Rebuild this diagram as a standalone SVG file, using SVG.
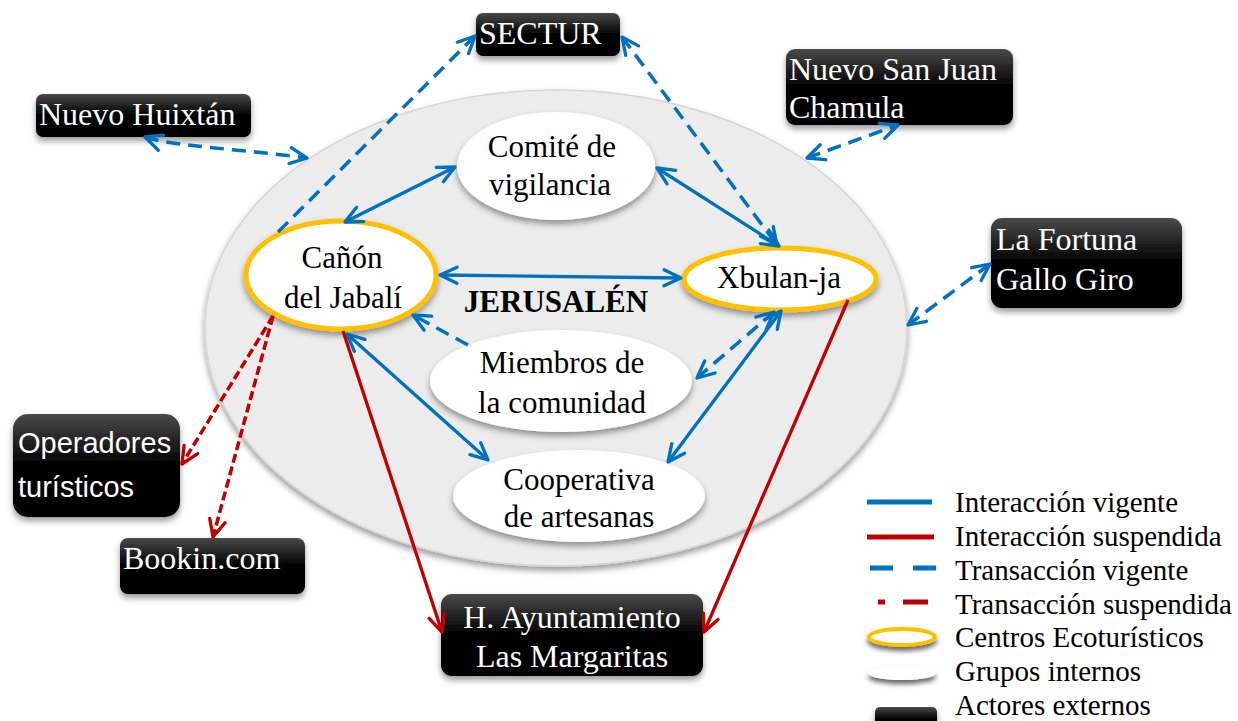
<svg xmlns="http://www.w3.org/2000/svg" width="1238" height="721" viewBox="0 0 1238 721">
<style>
.t{font-family:"Liberation Serif","Times New Roman",serif;font-size:31px;fill:#000}
.w{font-family:"Liberation Serif","Times New Roman",serif;font-size:32px;fill:#fff}
.ws{font-family:"Liberation Sans",Arial,sans-serif;font-size:29px;fill:#fff}
.lg{font-family:"Liberation Serif","Times New Roman",serif;font-size:29px;fill:#000}
.eco{fill:#fff;stroke:#ffc000;stroke-width:5}
.grp{fill:#fff}
.box{fill:url(#bg)}
.bs{fill:none;stroke:#0070c0;stroke-width:3.3}
.bd{fill:none;stroke:#0070c0;stroke-width:3.5;stroke-dasharray:14 8}
.rs{fill:none;stroke:#c00000;stroke-width:3.3}
.rd{fill:none;stroke:#c00000;stroke-width:3.5;stroke-dasharray:9 4}
</style>
<defs>
<linearGradient id="bg" x1="0" y1="0" x2="0" y2="1">
<stop offset="0" stop-color="#4a4a4a"/><stop offset="0.5" stop-color="#000"/><stop offset="1" stop-color="#000"/>
</linearGradient>
<filter id="sh" x="-10%" y="-10%" width="120%" height="130%">
<feGaussianBlur in="SourceAlpha" stdDeviation="3"/>
<feOffset dy="4" result="b"/>
<feFlood flood-color="#000" flood-opacity="0.4"/>
<feComposite in2="b" operator="in"/>
<feMerge><feMergeNode/><feMergeNode in="SourceGraphic"/></feMerge>
</filter>
<filter id="sh2" x="-30%" y="-60%" width="160%" height="260%">
<feGaussianBlur in="SourceAlpha" stdDeviation="2.5"/>
<feOffset dy="4" result="b"/>
<feFlood flood-color="#000" flood-opacity="0.6"/>
<feComposite in2="b" operator="in"/>
<feMerge><feMergeNode/><feMergeNode in="SourceGraphic"/></feMerge>
</filter>
<marker id="ab" viewBox="-3 -3 23 22" refX="17" refY="8" markerWidth="23" markerHeight="22" markerUnits="userSpaceOnUse" orient="auto-start-reverse">
<path d="M0,0 L17,8 L0,16" fill="none" stroke="#0070c0" stroke-width="3.3" stroke-linecap="round" stroke-linejoin="round"/>
</marker>
<marker id="ar" viewBox="-3 -3 23 22" refX="17" refY="8" markerWidth="23" markerHeight="22" markerUnits="userSpaceOnUse" orient="auto-start-reverse">
<path d="M0,0 L17,8 L0,16" fill="none" stroke="#c00000" stroke-width="3.3" stroke-linecap="round" stroke-linejoin="round"/>
</marker>
</defs>
<rect width="1238" height="721" fill="#fff"/>

<g id="jerusalen">
<ellipse cx="556" cy="328" rx="351" ry="238" fill="#ececec" stroke="#d6d6d6" stroke-width="1.5" filter="url(#sh)"/>
<text x="556" y="312" text-anchor="middle" class="t" style="font-weight:bold">JERUSALÉN</text>
</g>

<g id="canon">
<ellipse cx="341" cy="275" rx="95" ry="54" class="eco" filter="url(#sh)"/>
<text x="342" y="268" text-anchor="middle" class="t">Cañón</text>
<text x="343" y="308" text-anchor="middle" class="t">del Jabalí</text>
</g>
<g id="xbulan">
<ellipse cx="780" cy="279" rx="96" ry="31" class="eco" filter="url(#sh)"/>
<text x="779" y="288" text-anchor="middle" class="t">Xbulan-ja</text>
</g>
<g id="comite">
<ellipse cx="556" cy="166" rx="99" ry="54" class="grp" filter="url(#sh)"/>
<text x="552" y="157" text-anchor="middle" class="t">Comité de</text>
<text x="550" y="195" text-anchor="middle" class="t">vigilancia</text>
</g>
<g id="miembros">
<ellipse cx="561" cy="381" rx="131" ry="51" class="grp" filter="url(#sh)"/>
<text x="562" y="373" text-anchor="middle" class="t">Miembros de</text>
<text x="562" y="413" text-anchor="middle" class="t">la comunidad</text>
</g>
<g id="cooperativa">
<ellipse cx="579" cy="496" rx="126" ry="46" class="grp" filter="url(#sh)"/>
<text x="579" y="490" text-anchor="middle" class="t">Cooperativa</text>
<text x="579" y="527" text-anchor="middle" class="t">de artesanas</text>
</g>

<g id="sectur">
<rect x="476" y="13" width="144" height="43" rx="7" class="box" filter="url(#sh)"/>
<text x="479" y="44" class="w">SECTUR</text>
</g>
<g id="huixtan">
<rect x="36" y="94" width="215" height="43" rx="7" class="box" filter="url(#sh)"/>
<text x="39" y="125" class="w">Nuevo Huixtán</text>
</g>
<g id="chamula">
<rect x="786" y="49" width="227" height="76" rx="9" class="box" filter="url(#sh)"/>
<text x="789" y="80" class="w">Nuevo San Juan</text>
<text x="789" y="118" class="w">Chamula</text>
</g>
<g id="fortuna">
<rect x="991" y="218" width="191" height="90" rx="11" class="box" filter="url(#sh)"/>
<text x="996" y="250" class="w">La Fortuna</text>
<text x="996" y="290" class="w">Gallo Giro</text>
</g>
<g id="operadores">
<rect x="13" y="414" width="167" height="103" rx="15" class="box" filter="url(#sh)"/>
<text x="18" y="453" class="ws">Operadores</text>
<text x="18" y="497" class="ws">turísticos</text>
</g>
<g id="bookin">
<rect x="120" y="538" width="185" height="56" rx="8" class="box" filter="url(#sh)"/>
<text x="123" y="569" class="w">Bookin.com</text>
</g>
<g id="ayuntamiento">
<rect x="441" y="594" width="262" height="82" rx="11" class="box" filter="url(#sh)"/>
<text x="572" y="628" text-anchor="middle" class="w">H. Ayuntamiento</text>
<text x="572" y="667" text-anchor="middle" class="w">Las Margaritas</text>
</g>

<g id="connectors">
<path class="bs" d="M345,222 L455,167" marker-start="url(#ab)" marker-end="url(#ab)"/>
<path class="bs" d="M657,168 L779,246" marker-start="url(#ab)" marker-end="url(#ab)"/>
<path class="bs" d="M440,275 L681,278" marker-start="url(#ab)" marker-end="url(#ab)"/>
<path class="bs" d="M347,334 L488,460" marker-start="url(#ab)" marker-end="url(#ab)"/>
<path class="bd" d="M468,345 L413,315" marker-end="url(#ab)"/>
<path class="bd" d="M697,378 L774,312" marker-start="url(#ab)" marker-end="url(#ab)"/>
<path class="bs" d="M668,462 L781,311" marker-start="url(#ab)" marker-end="url(#ab)"/>
<path class="bd" d="M278,232 L475,36" marker-end="url(#ab)"/>
<path class="bd" d="M622,37 L777,245" marker-start="url(#ab)" marker-end="url(#ab)"/>
<path class="bd" d="M145,137 C170,146 250,150 307,158" marker-start="url(#ab)" marker-end="url(#ab)"/>
<path class="bd" d="M807,158 L898,125" marker-start="url(#ab)" marker-end="url(#ab)"/>
<path class="bd" d="M908,325 L990,264" marker-start="url(#ab)" marker-end="url(#ab)"/>
<path class="rd" d="M273,316 L182,464" marker-end="url(#ar)"/>
<path class="rd" d="M273,316 L213,537" marker-end="url(#ar)"/>
<path class="rs" d="M343,331 L442,632" marker-end="url(#ar)"/>
<path class="rs" d="M848,300 L704,632" marker-end="url(#ar)"/>
</g>

<g id="legend">
<line x1="867" y1="502" x2="932" y2="502" stroke="#0070c0" stroke-width="5"/>
<line x1="867" y1="537" x2="934" y2="537" stroke="#c00000" stroke-width="5"/>
<line x1="870" y1="568" x2="937" y2="568" stroke="#0070c0" stroke-width="5" stroke-dasharray="23 20"/>
<line x1="878" y1="602" x2="928" y2="602" stroke="#c00000" stroke-width="5" stroke-dasharray="7 18 25 100"/>
<ellipse cx="902" cy="637" rx="33" ry="8" class="eco" style="stroke-width:4" filter="url(#sh2)"/>
<ellipse cx="902" cy="673" rx="34" ry="7" class="grp" filter="url(#sh2)"/>
<rect x="875" y="707" width="62" height="24" rx="5" class="box" filter="url(#sh)"/>
<text x="955" y="512" class="lg">Interacción vigente</text>
<text x="955" y="546" class="lg">Interacción suspendida</text>
<text x="955" y="580" class="lg">Transacción vigente</text>
<text x="955" y="614" class="lg">Transacción suspendida</text>
<text x="955" y="647" class="lg">Centros Ecoturísticos</text>
<text x="955" y="681" class="lg">Grupos internos</text>
<text x="955" y="715" class="lg">Actores externos</text>
</g>
</svg>
